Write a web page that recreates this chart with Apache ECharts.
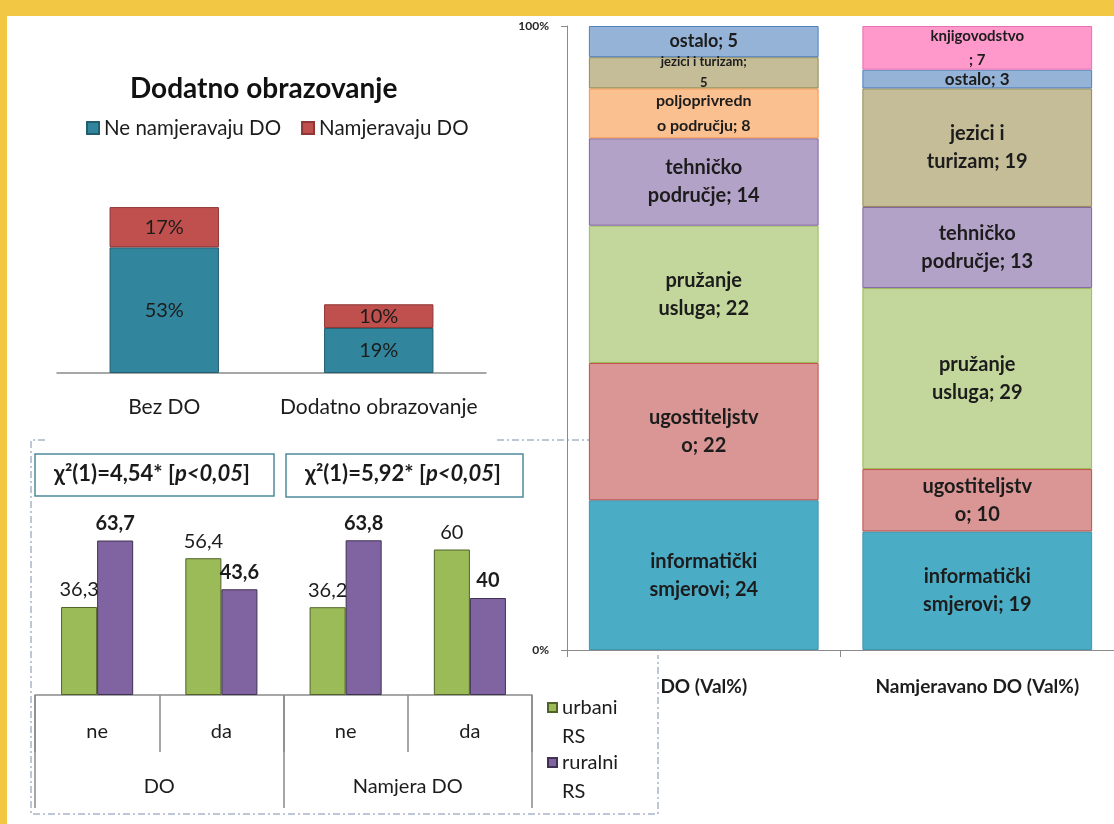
<!DOCTYPE html>
<html><head><meta charset="utf-8">
<script src="https://cdn.jsdelivr.net/npm/echarts@6/dist/echarts.min.js"></script>
<style>html,body{margin:0;padding:0;background:#fff}#c{width:1114px;height:824px}</style>
</head><body><div id="c"></div>
<script>
// ---------- top-left: Dodatno obrazovanje ----------
const doCategories = ['Bez DO', 'Dodatno obrazovanje'];
const neNamjeravaju = [53, 19];
const namjeravaju = [17, 10];

// ---------- bottom-left: urbani / ruralni RS ----------
const subCategories = ['ne', 'da', 'ne', 'da'];
const groupCategories = ['DO', 'Namjera DO'];
const urbaniRS = [36.3, 56.4, 36.2, 60];
const ruralniRS = [63.7, 43.6, 63.8, 40];
const chiValues = ['4,54', '5,92'];
const chiP = ['0,05', '0,05'];

// ---------- right: 100% stacked fields ----------
const fieldCategories = ['DO (Val%)', 'Namjeravano DO (Val%)'];
const fieldNames = ['informatički smjerovi', 'ugostiteljstvo', 'pružanje usluga', 'tehničko područje',
  'poljoprivredno područje', 'jezici i turizam', 'ostalo', 'knjigovodstvo'];
const informaticki = [24, 19];
const ugostiteljstvo = [22, 10];
const pruzanjeUsluga = [22, 29];
const tehnicko = [14, 13];
const poljoprivredno = [8, null];
const jeziciTurizam = [5, 19];
const ostalo = [5, 3];
const knjigovodstvo = [null, 7];
const fieldLabelText = [
  ['informatički\nsmjerovi; {v}', 'informatički\nsmjerovi; {v}'],
  ['ugostiteljstv\no; {v}', 'ugostiteljstv\no; {v}'],
  ['pružanje\nusluga; {v}', 'pružanje\nusluga; {v}'],
  ['tehničko\npodručje; {v}', 'tehničko\npodručje; {v}'],
  ['poljoprivredn\no području; {v}', ''],
  ['jezici i turizam;\n{v}', 'jezici i\nturizam; {v}'],
  ['ostalo; {v}', 'ostalo; {v}'],
  ['', 'knjigovodstvo\n; {v}']
];
const percentTicks = [0, 100];

// ---------- styles ----------
const fieldValues = [informaticki, ugostiteljstvo, pruzanjeUsluga, tehnicko, poljoprivredno, jeziciTurizam, ostalo, knjigovodstvo];
const fieldFill = ['#4BACC6', '#D99694', '#C3D69B', '#B3A2C7', '#FAC090', '#C4BD97', '#95B3D7', '#FF99CC'];
const fieldBorder = ['#3f97b0', '#c0504d', '#9bbb59', '#8064a2', '#f79646', '#948a54', '#4f81bd', '#e870b0'];
function fieldLabelStyle(i, j) {
  if (i === 4 && j === 0) return { fontSize: 16, lineHeight: 25 };
  if (i === 5 && j === 0) return { fontSize: 13, lineHeight: 21 };
  if (i === 6 && j === 1) return { fontSize: 17, lineHeight: 20 };
  if (i === 6 && j === 0) return { fontSize: 18, lineHeight: 22 };
  if (i === 7 && j === 1) return { fontSize: 15, lineHeight: 24 };
  return {};
}
const FONT = 'Lato';
const TXT = '#1c1c1c';
const AXIS = '#8a8a8a';

const chart = echarts.init(document.getElementById('c'), null, { renderer: 'canvas' });

const rightSeries = fieldValues.map((vals, i) => ({
  type: 'bar', name: fieldNames[i], stack: 'field', xAxisIndex: 2, yAxisIndex: 2, barWidth: '84%',
  itemStyle: { color: fieldFill[i], borderColor: fieldBorder[i], borderWidth: 1 },
  label: {
    show: true, position: 'inside', fontFamily: FONT, fontWeight: 'bold', color: TXT, fontSize: 20, lineHeight: 28,
    formatter: p => fieldLabelText[i][p.dataIndex].replace('{v}', p.value)
  },
  data: vals.map((v, j) => v == null ? '-' : { value: v, label: fieldLabelStyle(i, j) })
}));

const dash = { stroke: '#7b8fab', lineWidth: 1, lineDash: [7, 3, 2, 3] };
function chiText(k) {
  return '{b|χ²(1)=' + chiValues[k] + '* [}{i|p<' + chiP[k] + '}{b|]}';
}
const chiRich = {
  b: { fontFamily: FONT, fontWeight: 'bold', fontSize: 22, fill: '#1a1a1a' },
  i: { fontFamily: FONT, fontWeight: 'bold', fontStyle: 'italic', fontSize: 22, fill: '#1a1a1a' }
};
const legendRS = n => ' \n' + n.replace(' ', '\n');

const option = {
  animation: false,
  backgroundColor: '#ffffff',
  textStyle: { fontFamily: FONT },
  title: {
    text: 'Dodatno obrazovanje', left: 130, top: 75, padding: 0,
    textStyle: { fontFamily: FONT, fontWeight: 'bold', fontSize: 28, color: '#111' }
  },
  legend: [
    {
      data: ['Ne namjeravaju DO', 'Namjeravaju DO'], left: 86, top: 116, padding: 0,
      itemWidth: 12, itemHeight: 12, itemGap: 20, icon: 'rect', selectedMode: false,
      textStyle: { fontFamily: FONT, fontSize: 20.5, color: TXT, lineHeight: 24 }
    },
    {
      data: ['urbani RS'], left: 547, top: 664, padding: 0, orient: 'vertical',
      itemWidth: 9, itemHeight: 9, icon: 'rect', selectedMode: false,
      formatter: legendRS,
      textStyle: { fontFamily: FONT, fontSize: 20, color: TXT, lineHeight: 29 }
    },
    {
      data: ['ruralni RS'], left: 547, top: 719, padding: 0, orient: 'vertical',
      itemWidth: 9, itemHeight: 9, icon: 'rect', selectedMode: false,
      formatter: legendRS,
      textStyle: { fontFamily: FONT, fontSize: 20, color: TXT, lineHeight: 29 }
    }
  ],
  grid: [
    { left: 57, top: 183.4, width: 429, height: 189.6 },
    { left: 35, top: 501, width: 497, height: 194 },
    { left: 567, top: 26, width: 566, height: 624 }
  ],
  xAxis: [
    {
      type: 'category', gridIndex: 0, data: doCategories,
      axisLine: { lineStyle: { color: AXIS, width: 1.5 } }, axisTick: { show: false },
      axisLabel: { fontSize: 21, color: TXT, margin: 24, interval: 0, fontFamily: FONT }
    },
    {
      type: 'category', gridIndex: 1, data: subCategories,
      axisLine: { lineStyle: { color: AXIS, width: 1.5 } },
      axisTick: { show: true, interval: 0, length: 57, lineStyle: { color: AXIS, width: 1.5 } },
      axisLabel: { fontSize: 20, color: TXT, margin: 27, interval: 0, fontFamily: FONT }
    },
    {
      type: 'category', gridIndex: 2, data: fieldCategories,
      axisLine: { lineStyle: { color: AXIS, width: 1 } },
      axisTick: { show: true, length: 7, lineStyle: { color: AXIS } },
      axisLabel: { fontSize: 19, fontWeight: 'bold', color: TXT, margin: 27, interval: 0, fontFamily: FONT }
    },
    {
      type: 'category', gridIndex: 1, data: groupCategories, position: 'bottom',
      axisLine: { show: false },
      axisTick: { show: true, interval: 0, length: 113, lineStyle: { color: AXIS, width: 1.5 } },
      axisLabel: { fontSize: 20, color: TXT, margin: 82, interval: 0, fontFamily: FONT }
    }
  ],
  yAxis: [
    { type: 'value', gridIndex: 0, min: 0, max: 80, show: false },
    { type: 'value', gridIndex: 1, min: 0, max: 80, show: false },
    {
      type: 'value', gridIndex: 2, min: percentTicks[0], max: percentTicks[1], interval: 100,
      axisLine: { show: true, lineStyle: { color: AXIS } },
      axisTick: { show: true, length: 6, lineStyle: { color: AXIS } },
      splitLine: { show: false },
      axisLabel: { formatter: '{value}%', fontSize: 12, fontWeight: 'bold', color: '#262626', margin: 18, fontFamily: FONT }
    }
  ],
  series: [
    {
      type: 'bar', name: 'Ne namjeravaju DO', stack: 'do', xAxisIndex: 0, yAxisIndex: 0, barWidth: '51%',
      data: neNamjeravaju,
      itemStyle: { color: '#31859C', borderColor: '#215f70', borderWidth: 1 },
      label: { show: true, position: 'inside', formatter: '{c}%', fontSize: 20, color: TXT, fontFamily: FONT }
    },
    {
      type: 'bar', name: 'Namjeravaju DO', stack: 'do', xAxisIndex: 0, yAxisIndex: 0, barWidth: '51%',
      data: namjeravaju,
      itemStyle: { color: '#C0504D', borderColor: '#8c3836', borderWidth: 1 },
      label: { show: true, position: 'inside', formatter: '{c}%', fontSize: 20, color: TXT, fontFamily: FONT }
    },
    {
      type: 'bar', name: 'urbani RS', xAxisIndex: 1, yAxisIndex: 1, barWidth: '29%', barGap: '0%',
      data: urbaniRS,
      itemStyle: { color: '#9BBB59', borderColor: '#4f6228', borderWidth: 1 },
      label: { show: true, position: 'top', distance: 7, fontSize: 20, color: TXT, fontFamily: FONT,
        formatter: p => String(p.value).replace('.', ',') }
    },
    {
      type: 'bar', name: 'ruralni RS', xAxisIndex: 1, yAxisIndex: 1, barWidth: '29%', barGap: '0%',
      data: ruralniRS,
      itemStyle: { color: '#8064A2', borderColor: '#3f3151', borderWidth: 1 },
      label: { show: true, position: 'top', distance: 7, fontSize: 20, fontWeight: 'bold', color: TXT, fontFamily: FONT,
        formatter: p => String(p.value).replace('.', ',') }
    }
  ].concat(rightSeries),
  graphic: [
    { type: 'rect', z: 100, shape: { x: 0, y: 0, width: 1114, height: 16 }, style: { fill: '#F2C744' } },
    { type: 'rect', z: 100, shape: { x: 0, y: 0, width: 7, height: 824 }, style: { fill: '#F2C744' } },
    { type: 'polyline', z: 1, shape: { points: [[45, 440], [31, 440], [31, 814], [658, 814], [658, 655]] }, style: dash },
    { type: 'line', z: 1, shape: { x1: 497, y1: 440, x2: 591, y2: 440 }, style: dash },
    { type: 'rect', z: 5, shape: { x: 35, y: 454, width: 239, height: 42 }, style: { fill: '#fff', stroke: '#4e8a9c', lineWidth: 1.5 } },
    { type: 'rect', z: 5, shape: { x: 286, y: 454, width: 237, height: 43 }, style: { fill: '#fff', stroke: '#4e8a9c', lineWidth: 1.5 } },
    { type: 'text', z: 6, x: 152, y: 474, style: { text: chiText(0), rich: chiRich, align: 'center', verticalAlign: 'middle' } },
    { type: 'text', z: 6, x: 403, y: 474, style: { text: chiText(1), rich: chiRich, align: 'center', verticalAlign: 'middle' } }
  ]
};
chart.setOption(option);
</script>
</body></html>
